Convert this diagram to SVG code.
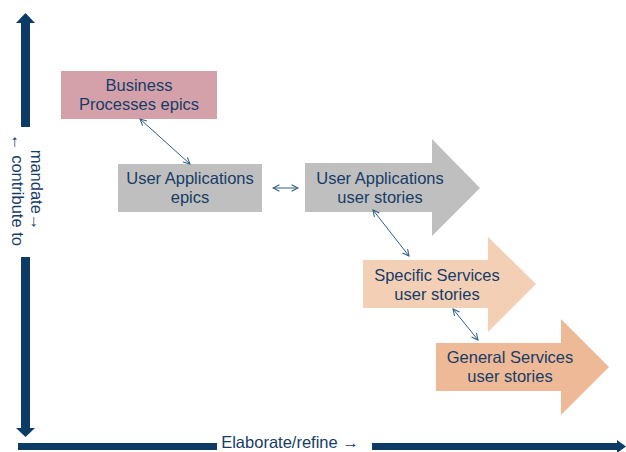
<svg xmlns="http://www.w3.org/2000/svg" width="626" height="452" viewBox="0 0 626 452">
<defs>
<style>
.t{font-family:"Liberation Sans",Arial,sans-serif;font-size:16.5px;fill:#173C66;text-anchor:middle}
.ax{fill:#0C3B66}
.c{stroke:#2F5D87;stroke-width:1;fill:none;marker-start:url(#h);marker-end:url(#h)}
</style>
<marker id="h" viewBox="0 0 10 10" refX="9" refY="5" markerWidth="8" markerHeight="8" orient="auto-start-reverse" markerUnits="userSpaceOnUse">
<path d="M1,1 L9,5 L1,9" fill="none" stroke="#2F5D87" stroke-width="1.3"/>
</marker>
</defs>
<rect width="626" height="452" fill="#FFFFFF"/>
<g id="axes">
<rect class="ax" x="21" y="22" width="9" height="105"/>
<polygon class="ax" points="25.5,13 35,23 16,23"/>
<rect class="ax" x="21" y="257" width="9" height="172"/>
<polygon class="ax" points="25.5,437 35,428 16,428"/>
<rect class="ax" x="18" y="443" width="199" height="7"/>
<rect class="ax" x="372" y="443" width="246" height="7"/>
<polygon class="ax" points="617,440 626,446.5 617,453"/>
<text class="t" x="290" y="448">Elaborate/refine →</text>
<g transform="translate(26,190) rotate(90)">
<text class="t" x="0" y="-5">mandate→</text>
<text class="t" x="0" y="14">← contribute to</text>
</g>
</g>
<g id="business-processes-epics">
<rect x="61" y="71" width="156" height="48" fill="#D4A1AB"/>
<text class="t" x="139" y="91">Business</text>
<text class="t" x="139" y="110">Processes epics</text>
</g>
<g id="user-applications-epics">
<rect x="118" y="164" width="144" height="48" fill="#BFBFBF"/>
<text class="t" x="190" y="184">User Applications</text>
<text class="t" x="190" y="203">epics</text>
</g>
<g id="user-applications-user-stories">
<polygon points="305,163 432,163 432,139 480,188 432,236 432,212 305,212" fill="#BFBFBF"/>
<text class="t" x="380" y="184">User Applications</text>
<text class="t" x="380" y="203">user stories</text>
</g>
<g id="specific-services-user-stories">
<polygon points="363,260 488,260 488,237 536,284 488,332 488,308 363,308" fill="#F3CFB5"/>
<text class="t" x="437" y="281">Specific Services</text>
<text class="t" x="437" y="300">user stories</text>
</g>
<g id="general-services-user-stories">
<polygon points="436,343 561,343 561,319 609,367 561,415 561,391 436,391" fill="#EEB996"/>
<text class="t" x="510" y="363">General Services</text>
<text class="t" x="510" y="382">user stories</text>
</g>
<g id="connectors">
<line class="c" x1="140" y1="119" x2="190" y2="164"/>
<line class="c" x1="273" y1="188" x2="298" y2="188"/>
<line class="c" x1="373" y1="210" x2="409" y2="256"/>
<line class="c" x1="453" y1="309" x2="478" y2="340"/>
</g>
</svg>
